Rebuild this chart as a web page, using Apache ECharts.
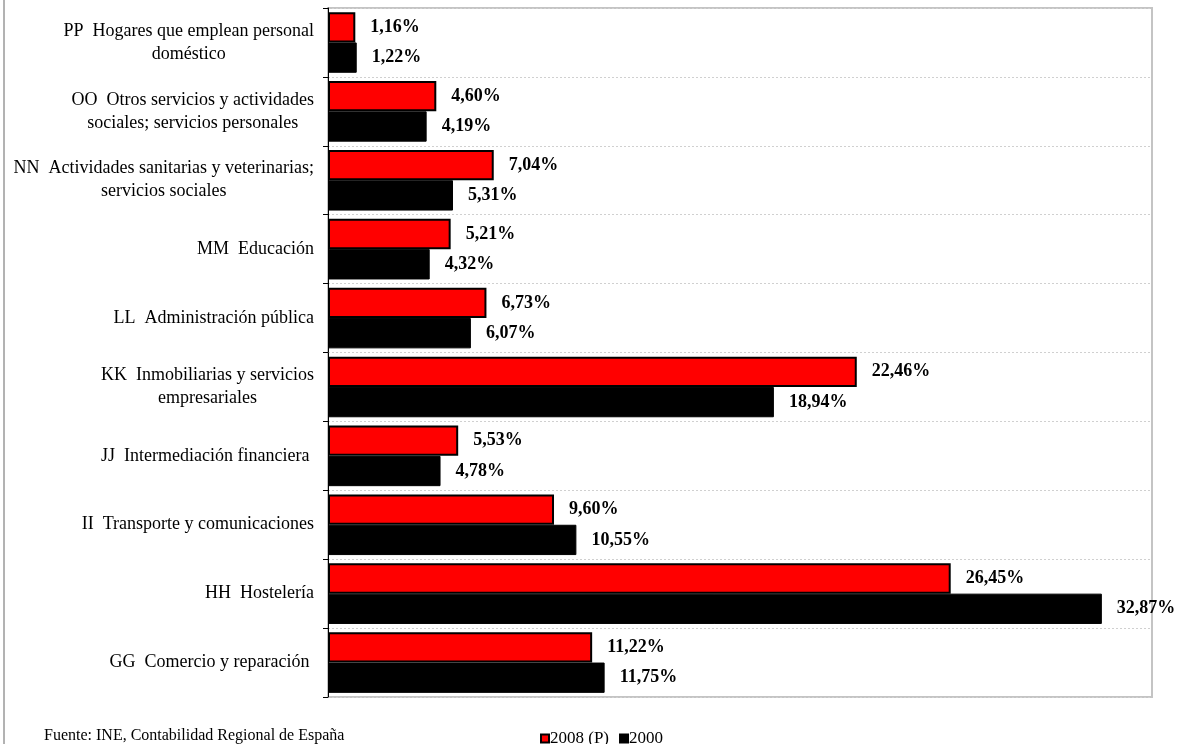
<!DOCTYPE html>
<html>
<head>
<meta charset="utf-8">
<script src="https://cdn.jsdelivr.net/npm/echarts@6/dist/echarts.min.js"></script>
<style>html,body{margin:0;padding:0;background:#fff}#c{width:1180px;height:744px}</style>
</head>
<body>
<div id="c"></div>
<script>
// Categories from bottom to top
const categories = [
  "GG  Comercio y reparación ",
  "HH  Hostelería",
  "II  Transporte y comunicaciones",
  "JJ  Intermediación financiera ",
  "KK  Inmobiliarias y servicios\nempresariales",
  "LL  Administración pública",
  "MM  Educación",
  "NN  Actividades sanitarias y veterinarias;\nservicios sociales",
  "OO  Otros servicios y actividades\nsociales; servicios personales",
  "PP  Hogares que emplean personal\ndoméstico"
];
const values2008 = [11.22, 26.45, 9.60, 5.53, 22.46, 6.73, 5.21, 7.04, 4.60, 1.16];
const values2000 = [11.75, 32.87, 10.55, 4.78, 18.94, 6.07, 4.32, 5.31, 4.19, 1.22];
const seriesNames = ["2008 (P)", "2000"];
const sourceText = "Fuente: INE, Contabilidad Regional de España";

const serif = "'Liberation Serif', 'Times New Roman', serif";
const chart = echarts.init(document.getElementById('c'));
const fmtPct = p => p.value.toFixed(2).replace('.', ',') + '%';
const labelCfg = {
  show: true, position: 'right', distance: 15,
  formatter: fmtPct, color: '#000', fontFamily: serif, fontWeight: 'bold', fontSize: 18
};
chart.setOption({
  animation: false,
  grid: { left: 328, right: 28, top: 8, bottom: 47, show: true, borderColor: '#c4c4c4', borderWidth: 2, backgroundColor: '#fff' },
  xAxis: { type: 'value', min: 0, max: 35, show: false },
  yAxis: {
    type: 'category', data: categories,
    axisLine: { show: true, lineStyle: { color: '#000', width: 1 } },
    axisTick: { show: true, length: 5, lineStyle: { color: '#000' } },
    splitLine: { show: true, lineStyle: { color: '#d0d0d0', type: [2, 2], width: 1 } },
    axisLabel: {
      margin: 14, color: '#000', fontFamily: serif, fontSize: 18, lineHeight: 23,
      formatter: v => v.split('\n').map(l => '{c|' + l + '}').join('\n'),
      rich: { c: { align: 'center', fontFamily: serif, fontSize: 18, lineHeight: 23, color: '#000' } }
    }
  },
  legend: {
    data: seriesNames, left: 535, top: 725, itemWidth: 8, itemHeight: 8, itemGap: 10,
    icon: 'rect', textStyle: { fontFamily: serif, fontSize: 17, color: '#000', padding: [0, 0, 0, -4] }
  },
  graphic: [
    { type: 'text', left: 44, top: 728, style: { text: sourceText, font: "16px 'Liberation Serif', serif", fill: '#000' } },
    { type: 'line', shape: { x1: 4, y1: 0, x2: 4, y2: 744 }, style: { stroke: '#666', lineWidth: 1 } }
  ],
  series: [
    { name: seriesNames[0], type: 'bar', data: values2008, barCategoryGap: '12%', barGap: '0%',
      itemStyle: { color: '#ff0000', borderColor: '#000', borderWidth: 2 }, label: labelCfg },
    { name: seriesNames[1], type: 'bar', data: values2000, barCategoryGap: '12%', barGap: '0%',
      itemStyle: { color: '#000', borderColor: '#000', borderWidth: 1 }, label: labelCfg }
  ]
});
</script>
</body>
</html>
